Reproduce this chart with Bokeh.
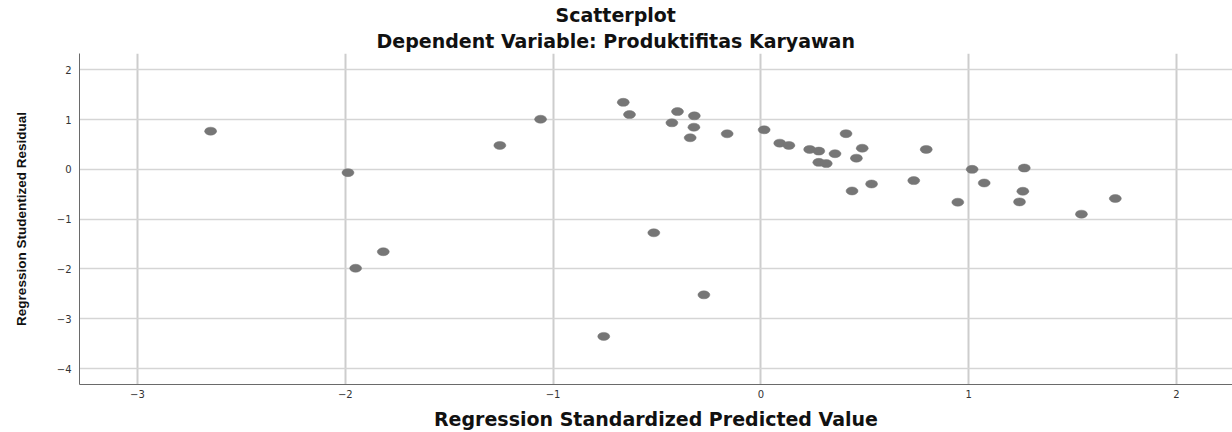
from bokeh.plotting import figure
from bokeh.models import Title, FixedTicker, ColumnDataSource, Range1d
from bokeh.embed import file_html
from bokeh.resources import INLINE

# Regression standardized predicted value (x) and studentized residual (y)
predicted = [-2.648, -1.987, -1.950, -1.817, -1.256, -1.060, -0.756, -0.662,
             -0.632, -0.515, -0.428, -0.401, -0.320, -0.322, -0.340, -0.274,
             -0.162, 0.016, 0.091, 0.135, 0.235, 0.279, 0.279, 0.315,
             0.357, 0.410, 0.488, 0.460, 0.439, 0.533, 0.736, 0.796,
             1.017, 1.075, 0.948, 1.268, 1.261, 1.245, 1.543, 1.706]
residual = [0.766, -0.066, -1.986, -1.654, 0.480, 1.006, -3.354, 1.346,
            1.100, -1.274, 0.934, 1.160, 1.074, 0.846, 0.634, -2.520,
            0.714, 0.794, 0.526, 0.480, 0.400, 0.366, 0.140, 0.116,
            0.314, 0.716, 0.424, 0.224, -0.434, -0.294, -0.226, 0.400,
            0.000, -0.274, -0.660, 0.026, -0.440, -0.654, -0.900, -0.586]

x_ticks = [-3, -2, -1, 0, 1, 2]
y_ticks = [-4, -3, -2, -1, 0, 1, 2]

title_main = "Scatterplot"
title_sub = "Dependent Variable: Produktifitas Karyawan"
x_label = "Regression Standardized Predicted Value"
y_label = "Regression Studentized Residual"


def fmt(v):
    return ("\u2212" + str(abs(v))) if v < 0 else str(v)


source = ColumnDataSource(data=dict(x=predicted, y=residual))

p = figure(width=1232, height=432, output_backend="svg", toolbar_location=None,
           x_range=Range1d(-3.279, 2.27), y_range=Range1d(-4.32, 2.326),
           min_border_left=79, min_border_right=0, min_border_top=53,
           min_border_bottom=47, background_fill_color="white",
           border_fill_color="white", outline_line_color=None)

# titles (p.title is the top one; the added one sits next to the plot)
p.title.text = title_main
p.title.align = "left"
p.title.offset = 476
p.title.text_font = "DejaVu Sans"
p.title.text_font_size = "19px"
p.title.text_font_style = "bold"
p.title.text_color = "#111111"
p.title.standoff = 0
p.add_layout(Title(text=title_sub, align="left", offset=297,
                   text_font="DejaVu Sans", text_font_size="19px",
                   text_font_style="bold", text_color="#111111",
                   standoff=4), "above")

# grid
p.xgrid.ticker = FixedTicker(ticks=x_ticks)
p.ygrid.ticker = FixedTicker(ticks=y_ticks)
p.xgrid.grid_line_color = "#cdcdcd"
p.xgrid.grid_line_width = 2
p.ygrid.grid_line_color = "#d5d5d5"
p.ygrid.grid_line_width = 1.5

# axes
for ax, ticks in ((p.xaxis[0], x_ticks), (p.yaxis[0], y_ticks)):
    ax.ticker = FixedTicker(ticks=ticks)
    ax.major_label_overrides = {t: fmt(t) for t in ticks}
    ax.major_tick_in = 0
    ax.major_tick_out = 0
    ax.minor_tick_line_color = None
    ax.major_tick_line_color = None
    ax.axis_line_color = "#6a6a6a"
    ax.axis_line_width = 1
    ax.major_label_text_font = "DejaVu Sans"
    ax.major_label_text_font_size = "10px"
    ax.major_label_text_color = "#333333"
    ax.axis_label_text_color = "#111111"
    ax.axis_label_text_font_style = "bold"

p.xaxis.axis_label = x_label
p.xaxis.axis_label_text_font = "DejaVu Sans"
p.xaxis.axis_label_text_font_size = "19px"
p.xaxis.major_label_standoff = 5
p.xaxis.axis_label_standoff = 7

p.yaxis.axis_label = y_label
p.yaxis.axis_label_text_font = "Liberation Sans"
p.yaxis.axis_label_text_font_size = "13.5px"
p.yaxis.major_label_standoff = 8
p.yaxis.axis_label_standoff = 25

p.ellipse(x="x", y="y", width=12, height=8, width_units="screen",
          height_units="screen", source=source, fill_color="#767676",
          line_color="#767676", line_width=0.5)

open("out.html", "w").write(file_html(p, INLINE))
